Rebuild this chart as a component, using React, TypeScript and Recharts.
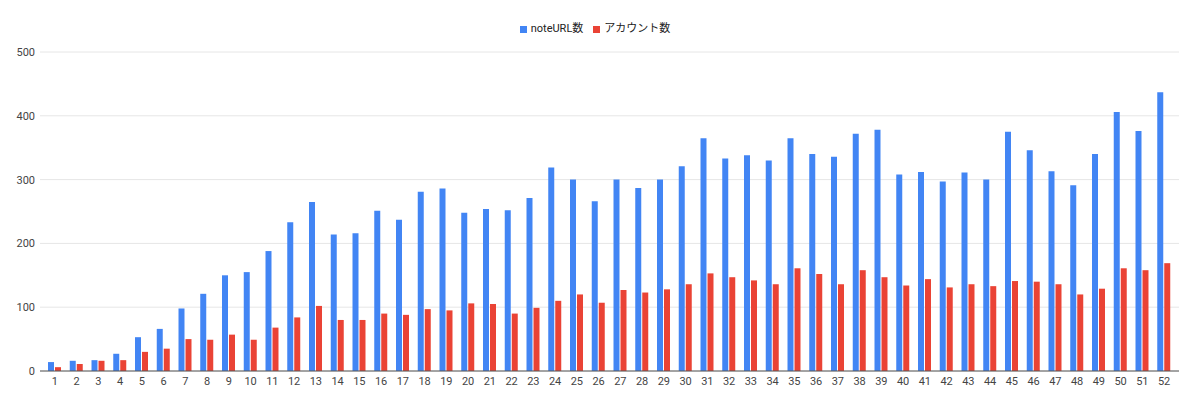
import { BarChart, Bar, XAxis, YAxis, CartesianGrid, Legend } from "recharts";

const weeks = Array.from({ length: 52 }, (_, i) => String(i + 1));

const noteUrlCounts = [
  14, 16, 17, 27, 53, 66, 98, 121, 150, 155, 188, 233, 265, 214, 216, 251,
  237, 281, 286, 248, 254, 252, 271, 319, 300, 266, 300, 287, 300, 321, 365,
  333, 338, 330, 365, 340, 336, 372, 378, 308, 312, 297, 311, 300, 375, 346,
  313, 291, 340, 406, 376, 437,
];

const accountCounts = [
  6, 11, 16, 17, 30, 35, 50, 49, 57, 49, 68, 84, 102, 80, 80, 90, 88, 97, 95,
  106, 105, 90, 99, 110, 120, 107, 127, 123, 128, 136, 153, 147, 142, 136, 161,
  152, 136, 158, 147, 134, 144, 131, 136, 133, 141, 140, 136, 120, 129, 161,
  158, 169,
];

const yTicks = [0, 100, 200, 300, 400, 500];

const data = weeks.map((week, i) => ({
  week,
  noteUrl: noteUrlCounts[i],
  account: accountCounts[i],
}));

const font = "Roboto, Arial, 'Noto Sans CJK JP', sans-serif";

export default function App() {
  return (
    <div
      style={{
        position: "fixed",
        top: 0,
        left: 0,
        width: 1200,
        height: 408,
        background: "#fff",
        fontFamily: font,
      }}
    >
      <BarChart
        width={1200}
        height={408}
        data={data}
        margin={{ top: 36, right: 21, left: 0, bottom: 17 }}
        barSize={6}
        barGap={1}
      >
        <CartesianGrid vertical={false} stroke="#e6e6e6" />
        <XAxis
          dataKey="week"
          interval={0}
          height={20}
          padding={{ left: 4, right: 4 }}
          tickLine={false}
          tickSize={0}
          tickMargin={6}
          stroke="#555"
          tick={{ fill: "#444", fontSize: 11, fontFamily: font }}
        />
        <YAxis
          width={40}
          domain={[0, 500]}
          ticks={yTicks}
          axisLine={false}
          tickLine={false}
          tickSize={0}
          tickMargin={5}
          tick={{ fill: "#444", fontSize: 11, fontFamily: font }}
        />
        <Legend
          verticalAlign="top"
          align="center"
          iconType="square"
          iconSize={7}
          wrapperStyle={{
            top: 19,
            left: 0,
            width: 1200,
            fontSize: 11,
            fontFamily: font,
          }}
          formatter={(value) => <span style={{ color: "#222" }}>{value}</span>}
        />
        <Bar
          dataKey="noteUrl"
          name="noteURL数"
          fill="#4285F4"
          isAnimationActive={false}
        />
        <Bar
          dataKey="account"
          name="アカウント数"
          fill="#EA4335"
          isAnimationActive={false}
        />
      </BarChart>
    </div>
  );
}
